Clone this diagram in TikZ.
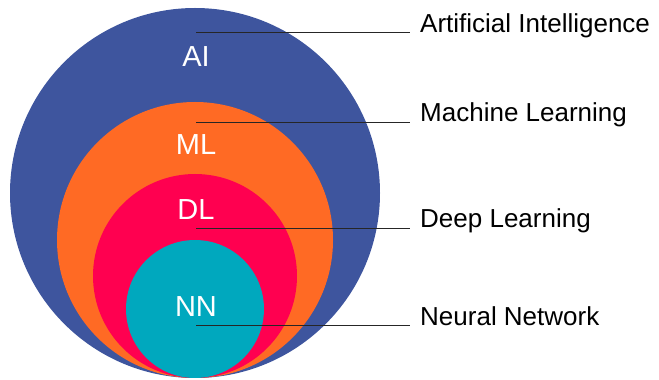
\documentclass[tikz,border=0pt]{standalone}
\usepackage{fontspec}
\setmainfont{Liberation Sans}
\usepackage{xcolor}
\definecolor{aiblue}{RGB}{62,85,158}
\definecolor{mlorange}{RGB}{255,106,36}
\definecolor{dlred}{RGB}{255,0,80}
\definecolor{nnteal}{RGB}{0,168,190}
\tikzset{
  set/.style={circle,inner sep=0pt,minimum size=#1},
  inlabel/.style={text=white,font=\fontsize{29}{29}\selectfont},
  outlabel/.style={anchor=base west,inner sep=0pt,font=\fontsize{26}{26}\selectfont},
  leader/.style={draw=black!85,line width=0.9pt}
}
\begin{document}
\begin{tikzpicture}[x=1pt,y=1pt]
            \useasboundingbox (0,0) rectangle (659,380);

            % Sets
            \node[set=370pt,fill=aiblue] (ai) at (195,187) {};
            \node[set=276pt,fill=mlorange] (ml) at (195,140) {};
            \node[set=204pt,fill=dlred] (dl) at (195,104) {};
            \node[set=138pt,fill=nnteal] (nn) at (195,71) {};

            % Short names
            \node[inlabel] (ai-txt) at (196,323) {AI};
            \node[inlabel] (ml-txt) at (196,235) {ML};
            \node[inlabel] (dl-txt) at (196,170) {DL};
            \node[inlabel] (nn-txt) at (196,73) {NN};

            % Full names
            \node[outlabel] (ai-lbl) at (420,347) {Artificial Intelligence};
            \node[outlabel] (ml-lbl) at (420,258) {Machine Learning};
            \node[outlabel] (dl-lbl) at (420,152) {Deep Learning};
            \node[outlabel] (nn-lbl) at (420,54) {Neural Network};

            % Leaders
            \coordinate (ai-pt) at (196,348);
            \coordinate (ml-pt) at (196,258);
            \coordinate (dl-pt) at (196,152);
            \coordinate (nn-pt) at (196,55);
            \draw[leader] (ai-pt) -- ([xshift=-10pt]ai-pt -| ai-lbl.west);
            \draw[leader] (ml-pt) -- ([xshift=-10pt]ml-pt -| ml-lbl.west);
            \draw[leader] (dl-pt) -- ([xshift=-10pt]dl-pt -| dl-lbl.west);
            \draw[leader] (nn-pt) -- ([xshift=-10pt]nn-pt -| nn-lbl.west);
        \end{tikzpicture}
\end{document}
